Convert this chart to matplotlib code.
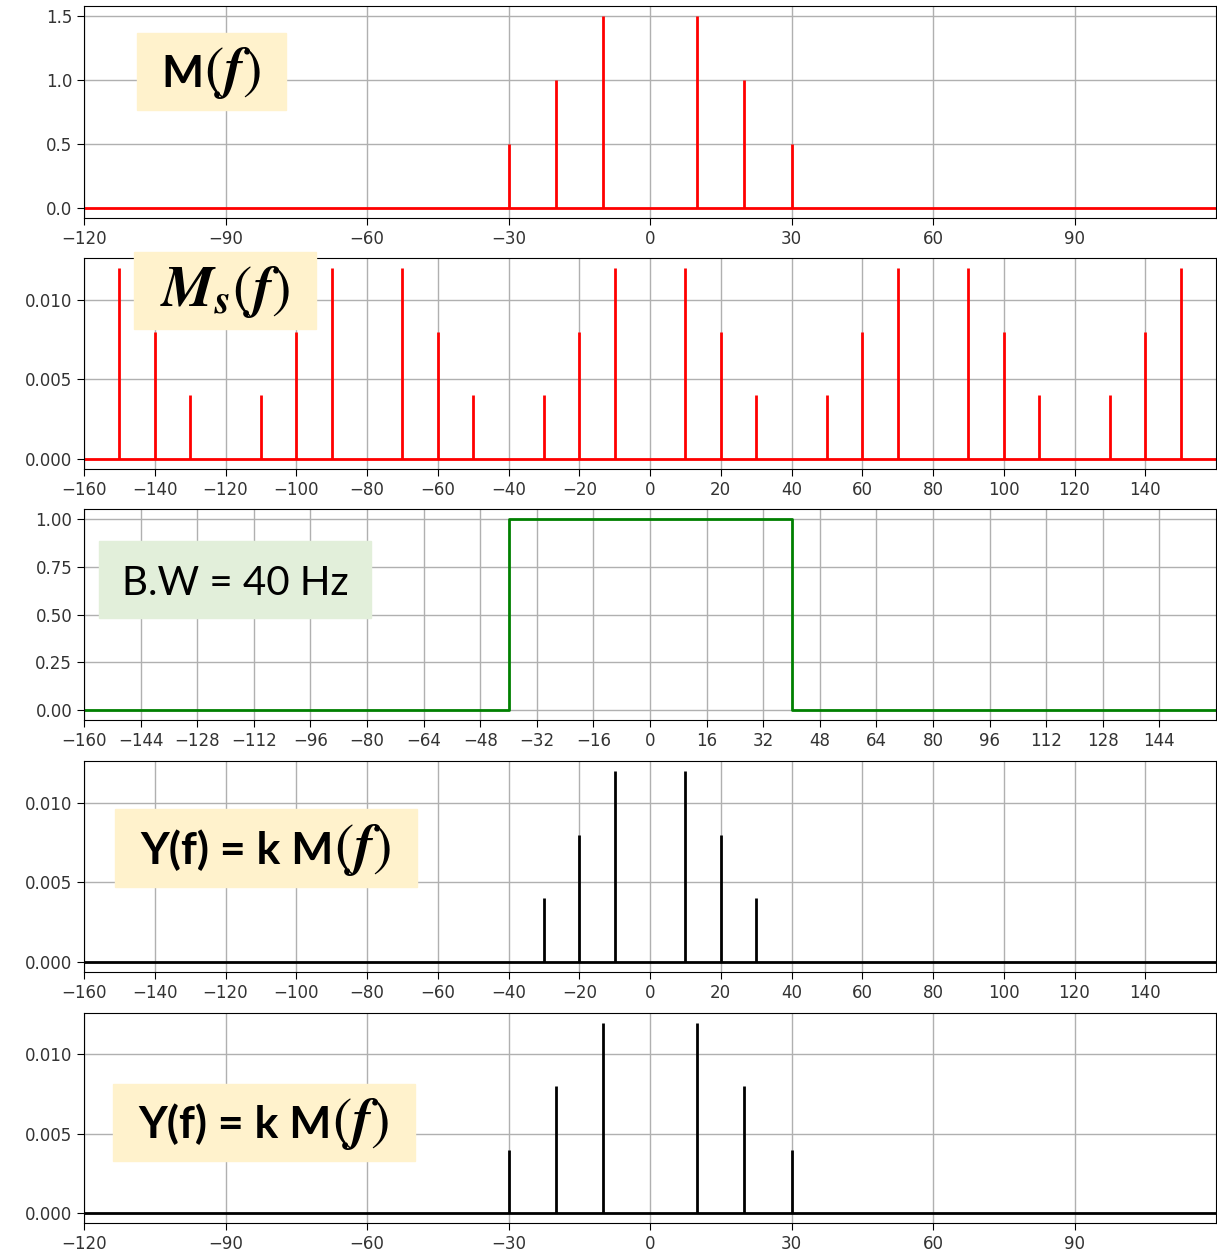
import numpy as np
import matplotlib
matplotlib.use("Agg")
from matplotlib import pyplot as plt
from matplotlib.patches import Rectangle

plt.rcParams['mathtext.fontset'] = 'stix'

# message spectrum M(f)
m_freq = [-30, -20, -10, 10, 20, 30]
m_amp = [0.5, 1.0, 1.5, 1.5, 1.0, 0.5]

# sampled spectrum Ms(f)
ms_freq = [-150, -140, -130, -110, -100, -90, -70, -60, -50, -30, -20, -10,
           10, 20, 30, 50, 60, 70, 90, 100, 110, 130, 140, 150]
ms_amp = [0.012, 0.008, 0.004, 0.004, 0.008, 0.012, 0.012, 0.008, 0.004, 0.004, 0.008, 0.012,
          0.012, 0.008, 0.004, 0.004, 0.008, 0.012, 0.012, 0.008, 0.004, 0.004, 0.008, 0.012]

# low pass filter, B.W = 40 Hz
lpf_freq = [-160, -40, -40, 40, 40, 160]
lpf_amp = [0, 0, 1, 1, 0, 0]

# filtered output Y(f)
y_freq = [-30, -20, -10, 10, 20, 30]
y_amp = [0.004, 0.008, 0.012, 0.012, 0.008, 0.004]

W, H = 1217, 1255
fig = plt.figure(figsize=(W / 100, H / 100), dpi=100)
renderer = fig.canvas.get_renderer()

def px_axes(top, bottom):
    return fig.add_axes([84 / W, 1 - bottom / H, (1216 - 84) / W, (bottom - top) / H])

def px_box(x0, y0, x1, y1, color, parts):
    fig.add_artist(Rectangle((x0 / W, 1 - y1 / H), (x1 - x0) / W, (y1 - y0) / H,
                             transform=fig.transFigure, color=color, zorder=5))
    # lay the pieces out on one baseline, then centre them in the box
    base = 1 - (y1 - 23) / H
    x = 0
    texts = []
    for s, kw in parts:
        t = fig.text(x / W, base, s, ha='left', va='baseline', zorder=6, **kw)
        texts.append((t, x))
        x += t.get_window_extent(renderer).width
    shift = (x0 + x1) / 2 - x / 2
    for t, xx in texts:
        t.set_x((xx + shift) / W)

def spikes(ax, f, a, color, lim):
    ax.vlines(f, 0, a, color=color, lw=2)
    ax.plot([-lim, lim], [0, 0], color=color, lw=2)
    ax.set_xlim(-lim, lim)
    ax.set_ylim(-0.05 * max(a), 1.05 * max(a))

axes = [px_axes(6, 218), px_axes(258, 469), px_axes(509, 720), px_axes(761, 972), px_axes(1013, 1223)]

ax = axes[0]
spikes(ax, m_freq, m_amp, 'red', 120)
ax.set_xticks(np.arange(-120, 120, 30))
ax.set_yticks([0.0, 0.5, 1.0, 1.5])

ax = axes[1]
spikes(ax, ms_freq, ms_amp, 'red', 160)
ax.set_xticks(np.arange(-160, 160, 20))
ax.set_yticks([0.0, 0.005, 0.010])

ax = axes[2]
ax.plot(lpf_freq, lpf_amp, color='green', lw=2)
ax.set_xlim(-160, 160)
ax.set_ylim(-0.05, 1.05)
ax.set_xticks(np.arange(-160, 160, 16))
ax.set_yticks([0.0, 0.25, 0.5, 0.75, 1.0])
ax.yaxis.set_major_formatter('{x:.2f}')

ax = axes[3]
spikes(ax, y_freq, y_amp, 'black', 160)
ax.set_xticks(np.arange(-160, 160, 20))
ax.set_yticks([0.0, 0.005, 0.010])

ax = axes[4]
spikes(ax, y_freq, y_amp, 'black', 120)
ax.set_xticks(np.arange(-120, 120, 30))
ax.set_yticks([0.0, 0.005, 0.010])

for ax in axes:
    ax.grid(True, color='#b0b0b0', lw=1)
    ax.tick_params(labelsize=12, length=5, labelcolor='#333333')
for ax in (axes[1], axes[3], axes[4]):
    ax.yaxis.set_major_formatter('{x:.3f}')
axes[0].yaxis.set_major_formatter('{x:.1f}')

yellow = '#fff2cc'
bold = dict(family='Lato', weight='bold', fontsize=32)
mathf = (r'$(\mathbfit{f})$', dict(fontsize=42))
px_box(137, 33, 286, 110, yellow, [('M', bold), mathf])
px_box(134, 252, 316, 329, yellow,
       [(r'$\mathbfit{M}_{\mathbfit{s}}(\mathbfit{f})$', dict(fontsize=42))])
px_box(99, 541, 371, 618, '#e2efda', [('B.W = 40 Hz', dict(family='Lato', fontsize=29))])
px_box(115, 809, 417, 887, yellow, [('Y(f) = k M', bold), mathf])
px_box(113, 1084, 415, 1161, yellow, [('Y(f) = k M', bold), mathf])

fig.savefig('out.png', dpi=100)
